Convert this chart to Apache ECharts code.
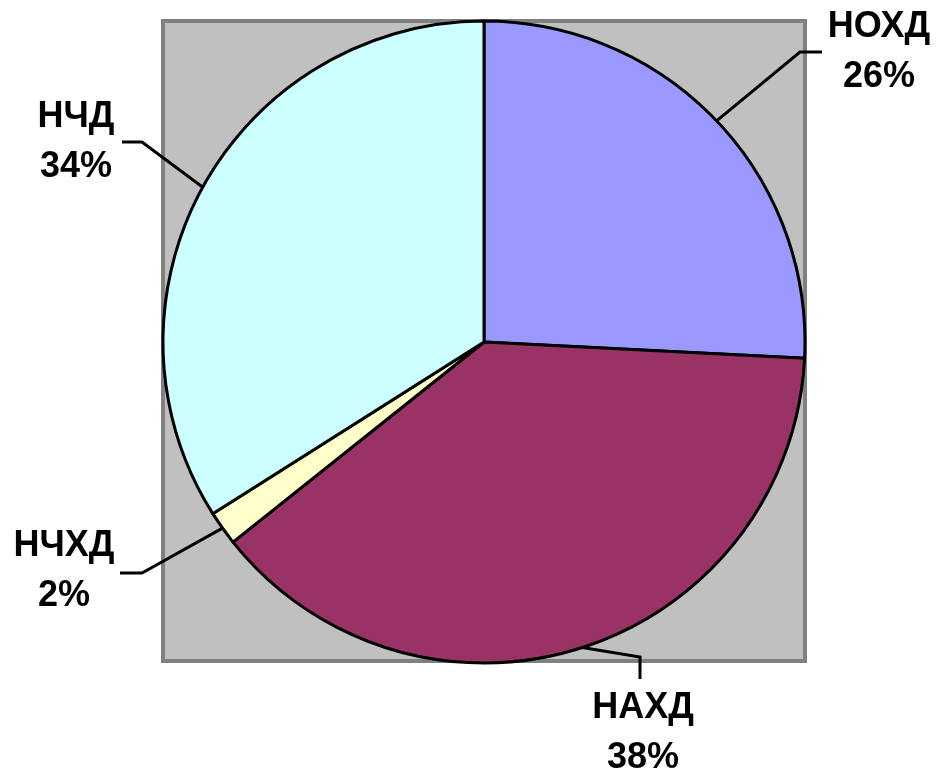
<!DOCTYPE html>
<html>
<head>
<meta charset="utf-8">
<script src="https://cdn.jsdelivr.net/npm/echarts@6/dist/echarts.min.js"></script>
<style>
  html, body { margin: 0; padding: 0; background: #fff; }
  #chart { width: 940px; height: 775px; }
</style>
</head>
<body>
<div id="chart"></div>
<script>
// data (shares in %; labels round them)
const categories = ['НОХД', 'НАХД', 'НЧХД', 'НЧД'];
const shares = [25.8, 38.49, 1.73, 33.98];
const colors = ['#9999FF', '#993366', '#FFFFCC', '#CCFFFF'];

// label placement (text center + elbow/end of leader line)
const labelPos = [
  { x: 879, y: 52, elbow: [800, 52], end: [822, 52] },
  { x: 643, y: 733, elbow: [640, 657], end: [640, 679] },
  { x: 64, y: 571, elbow: [142, 573], end: [120, 573] },
  { x: 76, y: 142, elbow: [142, 142], end: [122, 142] }
];

const chart = echarts.init(document.getElementById('chart'));

const options = {
  animation: false,
  backgroundColor: '#fff',
  graphic: [{
    // gray plot area
    type: 'rect',
    z: -1,
    shape: { x: 163, y: 21, width: 642, height: 640 },
    style: { fill: '#C0C0C0', stroke: '#808080', lineWidth: 4 }
  }],
  series: [{
    type: 'pie',
    center: [484, 342],
    radius: 321,
    startAngle: 90,
    clockwise: true,
    percentPrecision: 0,
    data: categories.map((name, i) => ({
      name: name,
      value: shares[i],
      itemStyle: { color: colors[i] }
    })),
    itemStyle: { borderColor: '#000', borderWidth: 3 },
    emphasis: { disabled: true },
    label: {
      show: true,
      position: 'outside',
      formatter: '{b}\n{d}%',
      fontFamily: 'Liberation Sans, Arial, sans-serif',
      fontWeight: 'bold',
      fontSize: 36,
      lineHeight: 50,
      color: '#000',
      align: 'center'
    },
    labelLine: {
      show: true,
      lineStyle: { color: '#000', width: 3 }
    },
    labelLayout: function (params) {
      const p = labelPos[params.dataIndex];
      const start = params.labelLinePoints ? params.labelLinePoints[0] : p.elbow;
      return {
        x: p.x,
        y: p.y,
        align: 'center',
        verticalAlign: 'middle',
        labelLinePoints: [start, p.elbow, p.end]
      };
    }
  }]
};

chart.setOption(options);
</script>
</body>
</html>
